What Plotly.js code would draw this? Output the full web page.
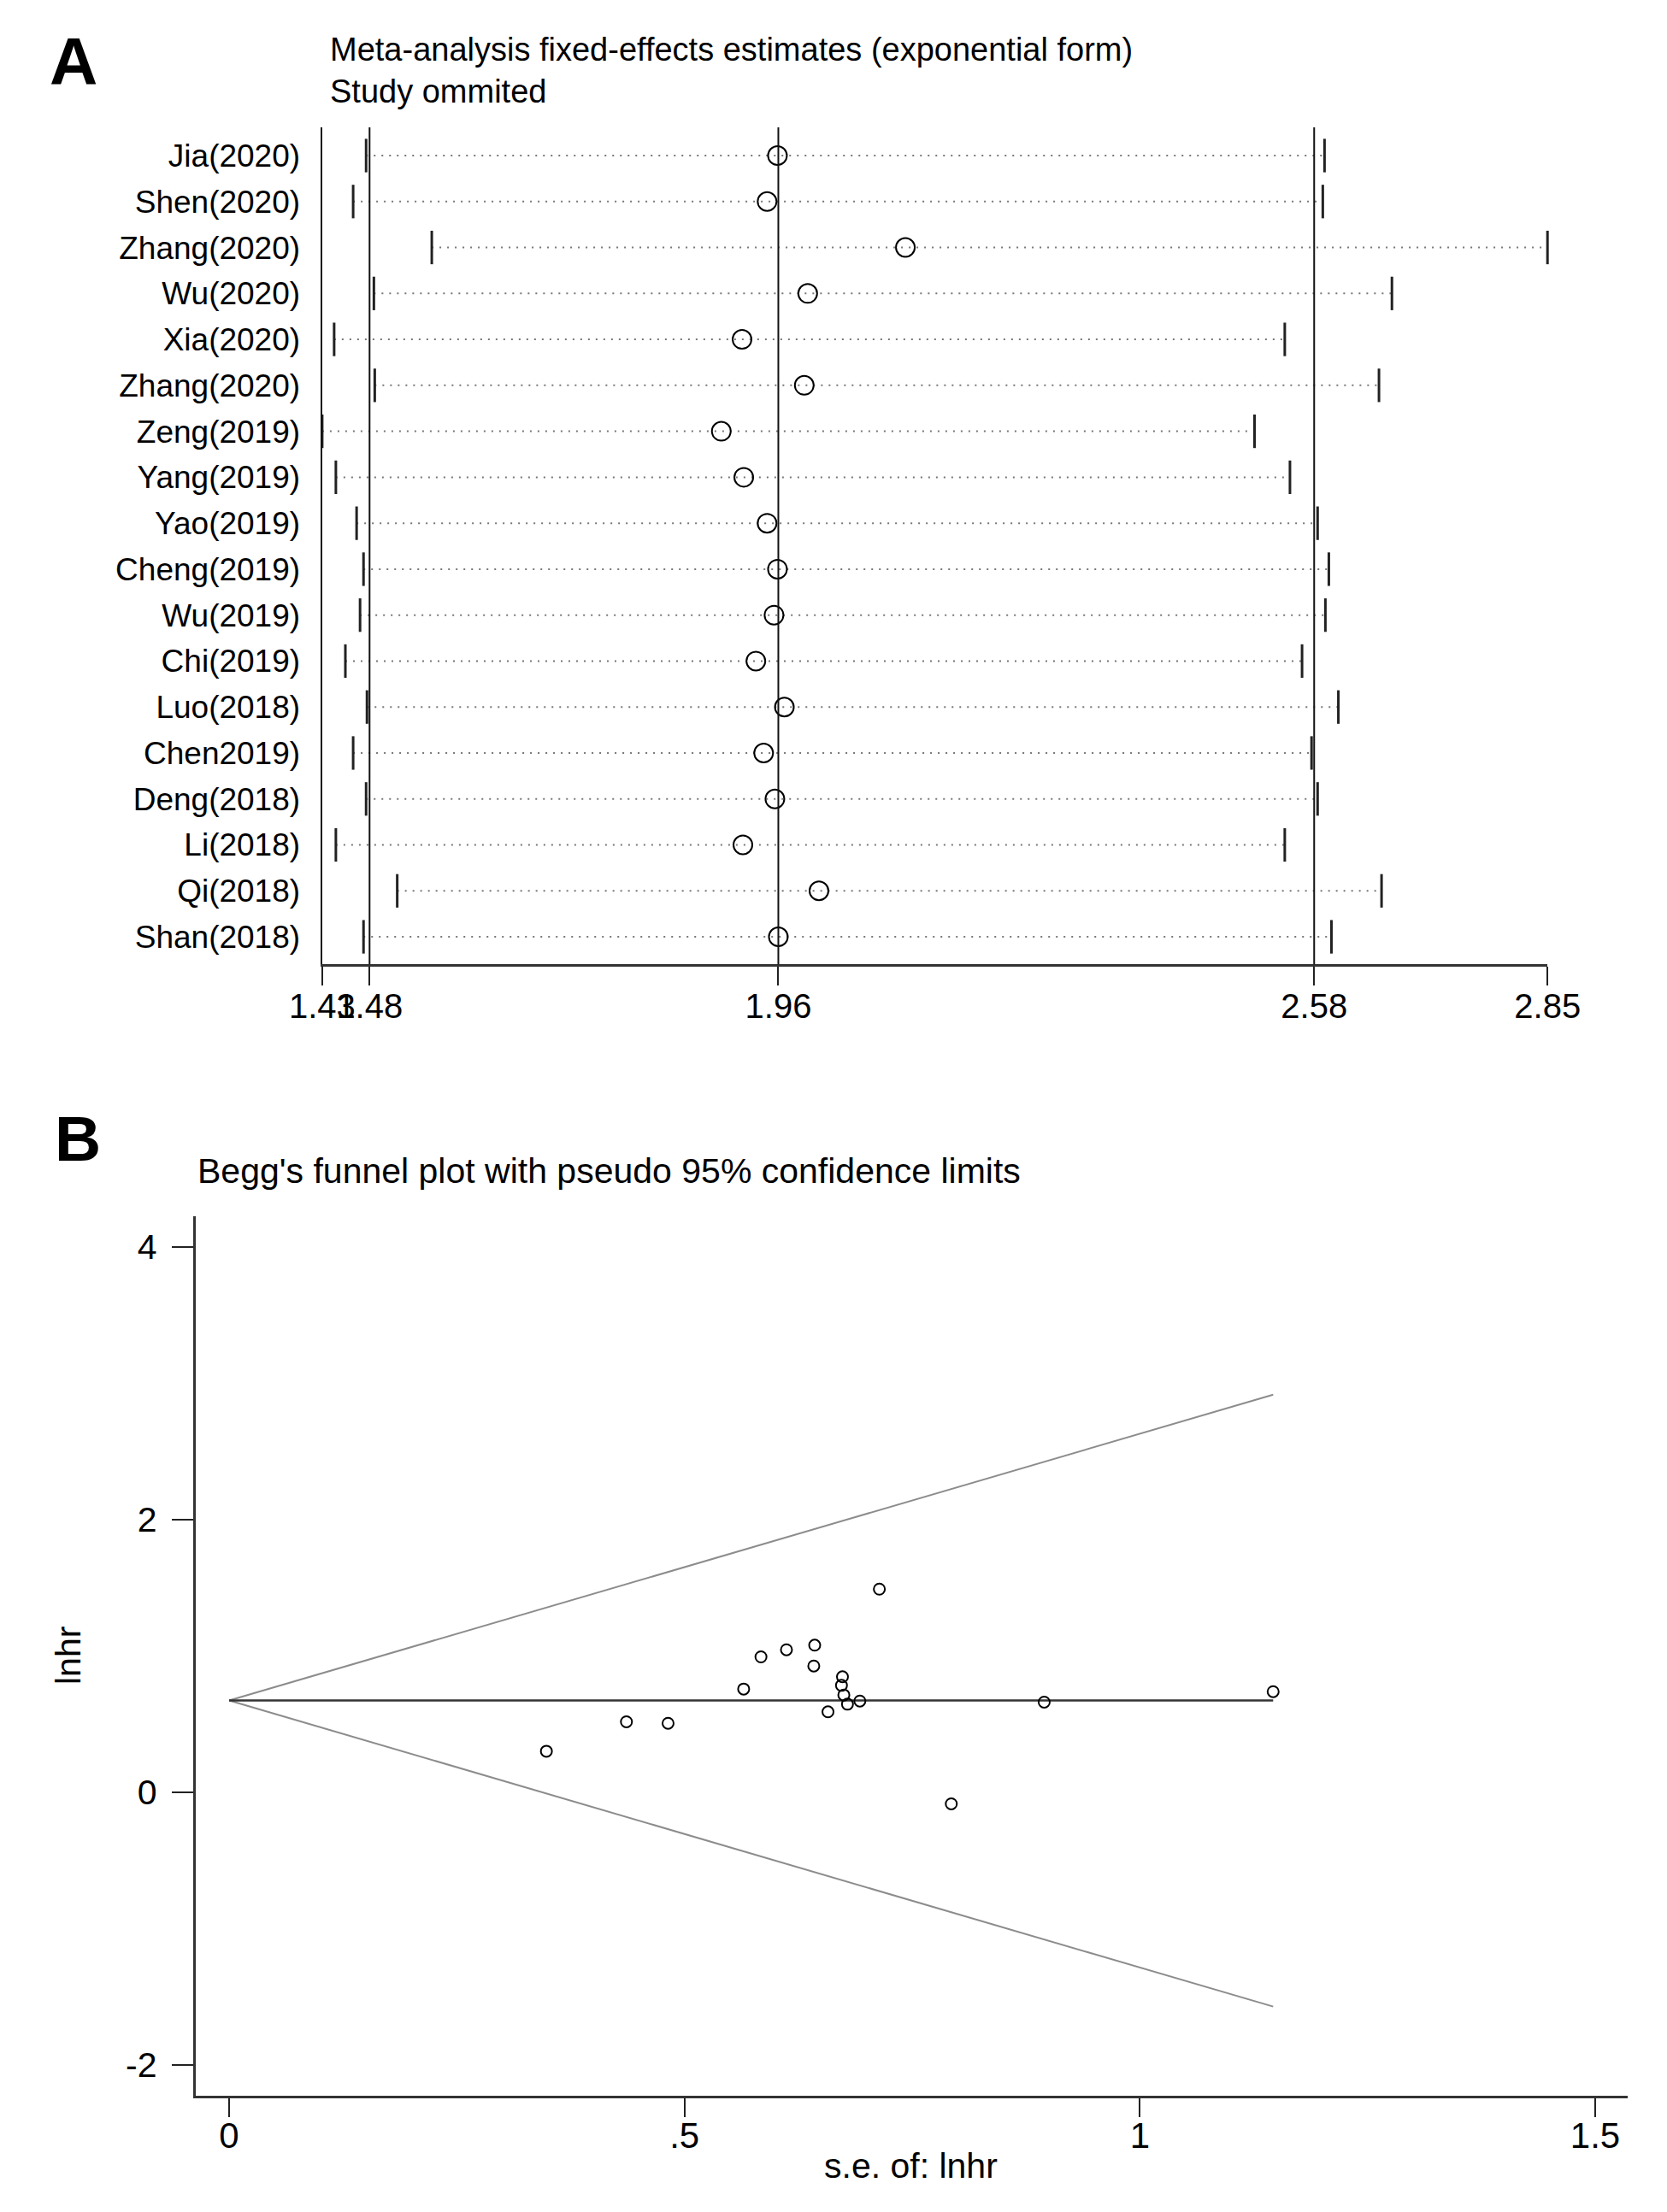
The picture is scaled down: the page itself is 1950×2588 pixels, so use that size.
<!DOCTYPE html>
<html>
<head>
<meta charset="utf-8">
<script src="https://cdn.plot.ly/plotly-3.0.1.min.js"></script>
<style>html,body{margin:0;padding:0;background:#fff;}#chart{width:1950px;height:2588px;}</style>
</head>
<body>
<div id="chart"></div>
<script>
// ---------- Panel A: influence analysis (study omitted) ----------
const studies = ['Jia(2020)','Shen(2020)','Zhang(2020)','Wu(2020)','Xia(2020)','Zhang(2020)',
  'Zeng(2019)','Yang(2019)','Yao(2019)','Cheng(2019)','Wu(2019)','Chi(2019)',
  'Luo(2018)','Chen2019)','Deng(2018)','Li(2018)','Qi(2018)','Shan(2018)'];
const estimate = [1.959,1.947,2.107,1.994,1.918,1.990,1.894,1.920,1.947,1.959,1.955,1.934,1.967,1.943,1.956,1.919,2.007,1.960];
const lowerCI  = [1.483,1.468,1.559,1.492,1.446,1.493,1.4322,1.448,1.472,1.480,1.476,1.459,1.484,1.468,1.483,1.448,1.519,1.480];
const upperCI  = [2.592,2.590,2.850,2.670,2.546,2.655,2.511,2.552,2.584,2.597,2.593,2.566,2.608,2.577,2.584,2.546,2.658,2.600];
const overallLines = [1.487, 1.96, 2.58];
const xTickValsA = [1.4322, 1.487, 1.96, 2.58, 2.85];
const xTickTextA = ['1.43','1.48','1.96','2.58','2.85'];

// ---------- Panel B: Begg's funnel plot ----------
const seLnhr = [0.714,0.643,0.612,0.584,0.642,0.6735,0.6724,0.675,0.679,0.6926,0.565,0.6576,0.4363,0.482,0.3484,0.793,0.895,1.1464];
const lnhr   = [1.490,1.079,1.045,0.993,0.926,0.847,0.784,0.713,0.646,0.669,0.757,0.590,0.517,0.506,0.301,-0.085,0.661,0.738];
const funnelSE    = [0, 1.1464];
const funnelMid   = [0.673, 0.673];
const funnelUpper = [0.673, 2.916];
const funnelLower = [0.673, -1.572];
const xTickValsB = [0, 0.5, 1, 1.5];
const xTickTextB = ['0', '.5', '1', '1.5'];
const yTickValsB = [-2, 0, 2, 4];
const yTickTextB = ['-2', '0', '2', '4'];

const W = 1950, H = 2588;
const FONT = 'Liberation Sans, Arial, Helvetica, sans-serif';
const px = v => v / W;
const py = v => 1 - v / H;

const rows = studies.map((_, i) => i + 1);

// dotted CI lines
const ciX = [], ciY = [];
rows.forEach((r, i) => { ciX.push(lowerCI[i], upperCI[i], null); ciY.push(r, r, null); });

const traces = [
  {x: ciX, y: ciY, xaxis: 'x', yaxis: 'y', mode: 'lines', type: 'scatter',
   line: {color: '#777', width: 2, dash: '2px,7px'}, hoverinfo: 'skip'},
  {x: lowerCI.concat(upperCI), y: rows.concat(rows), xaxis: 'x', yaxis: 'y', mode: 'markers', type: 'scatter',
   marker: {symbol: 'line-ns-open', size: 28, color: '#222', line: {color: '#222', width: 3}}, cliponaxis: false},
  {x: estimate, y: rows, xaxis: 'x', yaxis: 'y', mode: 'markers', type: 'scatter',
   marker: {symbol: 'circle-open', size: 22, color: '#000', line: {color: '#000', width: 2}}},
  // funnel
  {x: funnelSE, y: funnelUpper, xaxis: 'x2', yaxis: 'y2', mode: 'lines', type: 'scatter',
   line: {color: '#8c8c8c', width: 2}},
  {x: funnelSE, y: funnelLower, xaxis: 'x2', yaxis: 'y2', mode: 'lines', type: 'scatter',
   line: {color: '#8c8c8c', width: 2}},
  {x: funnelSE, y: funnelMid, xaxis: 'x2', yaxis: 'y2', mode: 'lines', type: 'scatter',
   line: {color: '#333', width: 2.5}},
  {x: seLnhr, y: lnhr, xaxis: 'x2', yaxis: 'y2', mode: 'markers', type: 'scatter',
   marker: {symbol: 'circle-open', size: 13, color: '#000', line: {color: '#000', width: 2}}}
];

const shapes = overallLines.map(v => ({
  type: 'line', xref: 'x', yref: 'y domain', x0: v, x1: v, y0: 0, y1: 1,
  line: {color: '#111', width: 2}
}));

const layout = {
  width: W, height: H,
  margin: {l: 0, r: 0, t: 0, b: 0},
  paper_bgcolor: '#fff', plot_bgcolor: '#fff',
  showlegend: false,
  font: {family: FONT, color: '#000'},
  xaxis: {
    domain: [px(376.5), px(1810.2)], range: [1.4318, 2.85], anchor: 'y',
    showline: true, linecolor: '#333', linewidth: 3, showgrid: false, zeroline: false,
    ticks: 'outside', ticklen: 22, tickwidth: 2, tickcolor: '#222', tickangle: 0,
    tickvals: xTickValsA, ticktext: xTickTextA, ticklabelstandoff: -10,
    tickfont: {family: FONT, size: 40, color: '#000'}
  },
  yaxis: {
    domain: [py(1128.3), py(149)], range: [18.6, 0.386], anchor: 'x',
    showline: true, linecolor: '#111', linewidth: 2, showgrid: false, zeroline: false,
    ticks: '', tickvals: rows, ticktext: studies, ticklabelstandoff: 16,
    tickfont: {family: FONT, size: 37, color: '#000'}
  },
  xaxis2: {
    domain: [px(228.7), px(1904)], range: [-0.0369, 1.5357], anchor: 'y2',
    showline: true, linecolor: '#333', linewidth: 3, showgrid: false, zeroline: false,
    ticks: 'outside', ticklen: 22, tickwidth: 2, tickcolor: '#222', tickangle: 0,
    tickvals: xTickValsB, ticktext: xTickTextB, ticklabelstandoff: -14,
    tickfont: {family: FONT, size: 42, color: '#000'}
  },
  yaxis2: {
    domain: [py(2451.7), py(1423.4)], range: [-2.2245, 4.2226], anchor: 'x2',
    showline: true, linecolor: '#333', linewidth: 3, showgrid: false, zeroline: false,
    ticks: 'outside', ticklen: 25, tickwidth: 2, tickcolor: '#222',
    tickvals: yTickValsB, ticktext: yTickTextB, ticklabelstandoff: 9,
    tickfont: {family: FONT, size: 41, color: '#000'}
  },
  shapes: shapes,
  annotations: [
    {text: '<b>A</b>', xref: 'paper', yref: 'paper', x: px(56), y: py(72), xanchor: 'left', yanchor: 'middle',
     showarrow: false, font: {family: FONT, size: 78, color: '#000'}},
    {text: 'Meta-analysis fixed-effects estimates (exponential form)<br>Study ommited', align: 'left',
     xref: 'paper', yref: 'paper', x: px(384), y: py(82), xanchor: 'left', yanchor: 'middle',
     showarrow: false, font: {family: FONT, size: 38, color: '#000'}},
    {text: '<b>B</b>', xref: 'paper', yref: 'paper', x: px(62), y: py(1332), xanchor: 'left', yanchor: 'middle',
     showarrow: false, font: {family: FONT, size: 75, color: '#000'}},
    {text: "Begg's funnel plot with pseudo 95% confidence limits", xref: 'paper', yref: 'paper',
     x: px(229), y: py(1370), xanchor: 'left', yanchor: 'middle',
     showarrow: false, font: {family: FONT, size: 41, color: '#000'}},
    {text: 'lnhr', xref: 'paper', yref: 'paper', x: px(80), y: py(1937), xanchor: 'center', yanchor: 'middle',
     textangle: -90, showarrow: false, font: {family: FONT, size: 41, color: '#000'}},
    {text: 's.e. of: lnhr', xref: 'paper', yref: 'paper', x: px(1065), y: py(2534), xanchor: 'center', yanchor: 'middle',
     showarrow: false, font: {family: FONT, size: 41, color: '#000'}}
  ]
};

Plotly.newPlot('chart', traces, layout, {staticPlot: true, displayModeBar: false});
</script>
</body>
</html>
